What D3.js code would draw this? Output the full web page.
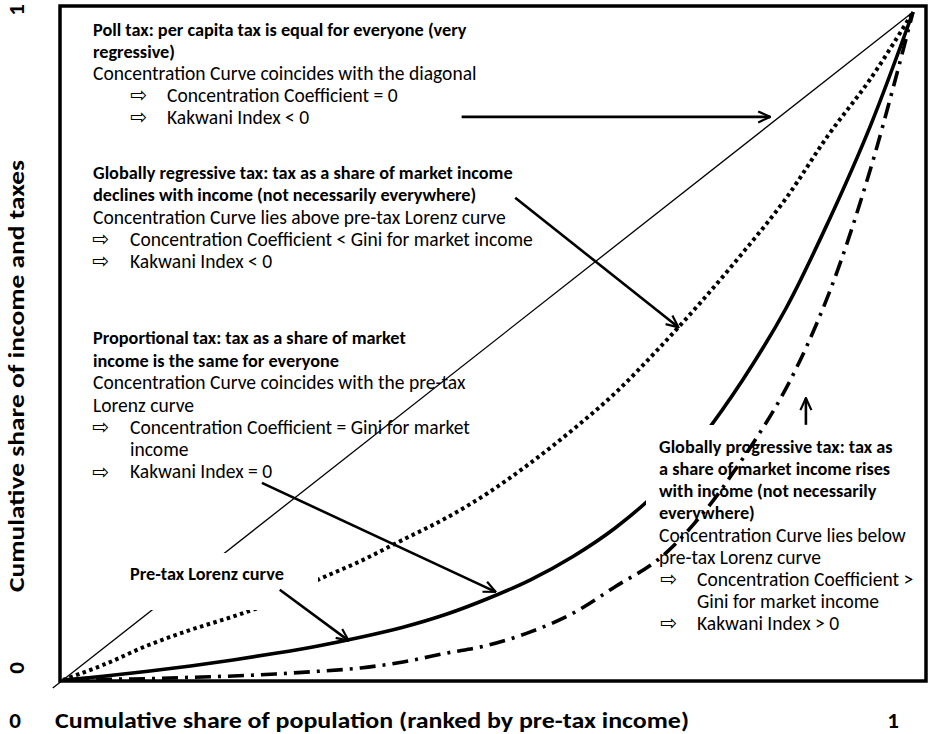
<!DOCTYPE html>
<html>
<head>
<meta charset="utf-8">
<script src="https://cdn.jsdelivr.net/npm/d3@7/dist/d3.min.js"></script>
<style>
html,body{margin:0;padding:0;background:#fff;}
svg{display:block;}
</style>
</head>
<body>
<svg id="chart" width="929" height="734"></svg>
<script>
// ---------------- DATA ----------------
const popShare      = [0, .05, .1, .15, .2, .25, .3, .35, .4, .45, .5, .55, .6, .65, .7, .75, .8, .85, .9, .95, 1];
const pretaxLorenz  = [0, .006, .013, .021, .030, .040, .051, .064, .079, .098, .122, .150, .185, .228, .283, .360, .450, .555, .685, .830, 1];
const regressiveCC  = [0, .024, .052, .075, .095, .118, .150, .178, .210, .242, .280, .325, .375, .430, .495, .565, .640, .720, .815, .900, 1];
const progressiveCC = [0, .001, .002, .004, .006, .009, .013, .018, .027, .040, .052, .072, .100, .140, .180, .245, .332, .435, .575, .765, 1];
const diagonalPts   = [[-0.012, -0.012], [1, 1]];

// annotation arrows in data units [x0,y0,x1,y1]
const arrows = [
  [.469, .843, .832, .843],
  [.532, .722, .724, .528],
  [.234, .295, .509, .132],
  [.255, .135, .336, .059],
  [.874, .382, .874, .422]
];

const axisTicksX = ["0", "1"];
const axisTicksY = ["0", "1"];
const xTitle = "Cumulative share of population (ranked by pre-tax income)";
const yTitle = "Cumulative share of income and taxes";

const pollLines = [
  {t:"Poll tax: per capita tax is equal for everyone (very", b:true},
  {t:"regressive)", b:true},
  {t:"Concentration Curve coincides with the diagonal"},
  {t:"Concentration Coefficient = 0", bullet:true},
  {t:"Kakwani Index < 0", bullet:true}
];
const regLines = [
  {t:"Globally regressive tax: tax as a share of market income", b:true},
  {t:"declines with income (not necessarily everywhere)", b:true},
  {t:"Concentration Curve lies above pre-tax Lorenz curve"},
  {t:"Concentration Coefficient < Gini for market income", bullet:true},
  {t:"Kakwani Index < 0", bullet:true}
];
const propLines = [
  {t:"Proportional tax: tax as a share of market", b:true},
  {t:"income is the same for everyone", b:true},
  {t:"Concentration Curve coincides with the pre-tax"},
  {t:"Lorenz curve"},
  {t:"Concentration Coefficient = Gini for market", bullet:true},
  {t:"income", cont:true},
  {t:"Kakwani Index = 0", bullet:true}
];
const progLines = [
  {t:"Globally progressive tax: tax as", b:true},
  {t:"a share of market income rises", b:true},
  {t:"with income (not necessarily", b:true},
  {t:"everywhere)", b:true},
  {t:"Concentration Curve lies below"},
  {t:"pre-tax Lorenz curve"},
  {t:"Concentration Coefficient >", bullet:true},
  {t:"Gini for market income", cont:true},
  {t:"Kakwani Index > 0", bullet:true}
];
const lorenzLabel = "Pre-tax Lorenz curve";

// ---------------- LAYOUT ----------------
const svg = d3.select("#chart");
const FONT = "Carlito, Calibri, Lato, 'Open Sans', sans-serif";
const x = d3.scaleLinear().domain([0,1]).range([63, 913]);
const y = d3.scaleLinear().domain([0,1]).range([680, 12]);

function fitSize(str, weight, target){
  const t = svg.append("text").attr("font-family", FONT).attr("font-weight", weight)
    .attr("font-size", 100).text(str);
  const w = t.node().getComputedTextLength();
  t.remove();
  return 100 * target / w;
}
const fsReg  = fitSize("Concentration Curve lies above pre-tax Lorenz curve", 400, 413);
const fsBold = fitSize("Globally regressive tax: tax as a share of market income", 700, 420);
const fsAx   = 23;

// frame
svg.append("rect").attr("x", 60).attr("y", 6).attr("width", 866).attr("height", 675)
  .attr("fill", "none").attr("stroke", "#000").attr("stroke-width", 3.5);

const line = d3.line().x(d => x(d[0])).y(d => y(d[1])).curve(d3.curveCatmullRom.alpha(0.5));
const zip = ys => popShare.map((p,i) => [p, ys[i]]);

// diagonal
svg.append("path").attr("d", d3.line().x(d=>x(d[0])).y(d=>y(d[1]))(diagonalPts))
  .attr("fill","none").attr("stroke","#000").attr("stroke-width",1.3);

// dotted regressive curve
svg.append("path").attr("d", line(zip(regressiveCC)))
  .attr("fill","none").attr("stroke","#000").attr("stroke-width",4)
  .attr("stroke-dasharray","3.5,3.5");

// pre-tax label with white background
svg.append("rect").attr("x", 122).attr("y", 553).attr("width", 196).attr("height", 57).attr("fill","#fff");
svg.append("text").attr("x", 130).attr("y", 574 + 0.34*fsBold)
  .attr("font-family", FONT).attr("font-weight", 700).attr("font-size", fsBold).text(lorenzLabel);

// solid pre-tax Lorenz
svg.append("path").attr("d", line(zip(pretaxLorenz)))
  .attr("fill","none").attr("stroke","#000").attr("stroke-width",3.6);

// progressive white box
svg.append("rect").attr("x", 646).attr("y", 425).attr("width", 276).attr("height", 212).attr("fill","#fff");

// arrows
const defs = svg.append("defs");
defs.append("marker").attr("id","ah").attr("viewBox","0 0 14 14").attr("refX",13).attr("refY",7)
  .attr("markerWidth",14).attr("markerHeight",14).attr("markerUnits","userSpaceOnUse").attr("orient","auto")
  .append("path").attr("d","M1,1.5 L13,7 L1,12.5").attr("fill","none").attr("stroke","#000").attr("stroke-width",2.2);
svg.selectAll("line.arrow").data(arrows).join("line").attr("class","arrow")
  .attr("x1", d=>x(d[0])).attr("y1", d=>y(d[1])).attr("x2", d=>x(d[2])).attr("y2", d=>y(d[3]))
  .attr("stroke","#000").attr("stroke-width",2.6).attr("marker-end","url(#ah)");

// text blocks
function block(lines, x0, yc, step, bulletX, textX){
  lines.forEach((l,i) => {
    const cy = yc + i*step;
    const fs = l.b ? fsBold : fsReg;
    if (l.bullet){
      svg.append("text").attr("x", bulletX).attr("y", cy + 0.36*fsReg)
        .attr("font-family","'DejaVu Sans', sans-serif").attr("font-size", fsReg*1.05).text("\u21E8");
    }
    svg.append("text").attr("x", (l.bullet||l.cont) ? textX : x0).attr("y", cy + 0.34*fs)
      .attr("font-family", FONT).attr("font-weight", l.b ? 700 : 400).attr("font-size", fs).text(l.t);
  });
}
block(pollLines, 93, 30, 21.8, 130, 167);
block(regLines, 93, 173, 22, 92, 130);
block(propLines, 93, 338, 22.3, 92, 130);
block(progLines, 659, 447, 22.0, 660, 697);

// dash-dot progressive curve (drawn over the text)
svg.append("path").attr("d", line(zip(progressiveCC)))
  .attr("fill","none").attr("stroke","#000").attr("stroke-width",3.6)
  .attr("stroke-dasharray","16,7,3,7");

// axis labels
function axText(str, xx, yy, anchor, len){
  const t = svg.append("text").attr("x", xx).attr("y", yy).attr("text-anchor", anchor)
    .attr("font-family", FONT).attr("font-weight",700).attr("font-size", fsAx).text(str);
  if (len) t.attr("textLength", len).attr("lengthAdjust","spacingAndGlyphs");
}
axText(axisTicksX[0], 15, 728, "middle");
axText(axisTicksX[1], 893, 728, "middle");
axText(xTitle, 55, 728, "start", 634);

function vtext(str, cx, cy, len){
  const t = svg.append("text").attr("transform", `translate(${cx},${cy}) rotate(-90)`)
    .attr("text-anchor", "middle").attr("font-family", FONT).attr("font-weight",700)
    .attr("font-size", fsAx).text(str);
  if (len) t.attr("textLength", len).attr("lengthAdjust","spacingAndGlyphs");
}
vtext(axisTicksY[0], 24, 668);
vtext(axisTicksY[1], 24, 10);
vtext(yTitle, 24, 376, 432);
</script>
</body>
</html>
